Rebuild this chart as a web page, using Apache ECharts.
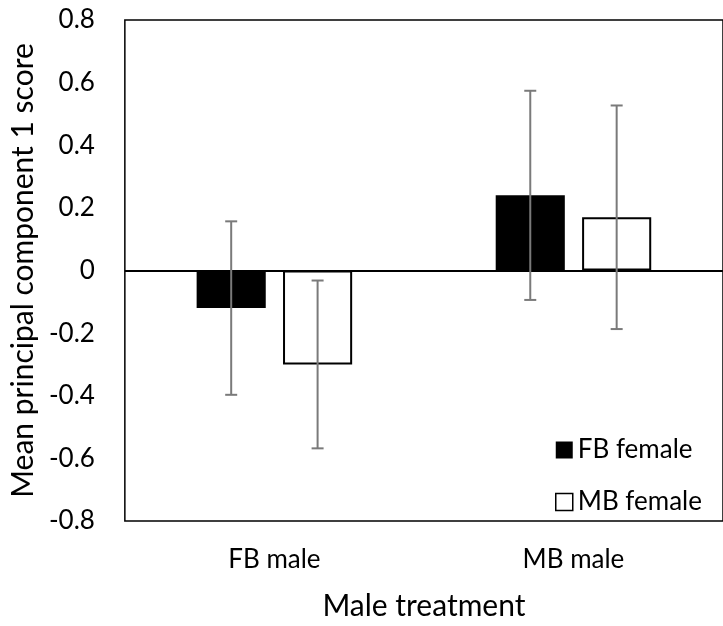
<!DOCTYPE html>
<html>
<head>
<meta charset="utf-8">
<script src="https://cdn.jsdelivr.net/npm/echarts@6/dist/echarts.min.js"></script>
<style>html,body{margin:0;padding:0;background:#fff}#c{width:723px;height:626px}</style>
</head>
<body>
<div id="c"></div>
<script>
var categories = ['FB male', 'MB male'];
var seriesNames = ['FB female', 'MB female'];
var fbFemale = [-0.12, 0.24];
var mbFemale = [-0.30, 0.17];
var fbFemaleErr = [0.277, 0.334];
var mbFemaleErr = [0.268, 0.357];
var yTicks = [-0.8, -0.6, -0.4, -0.2, 0, 0.2, 0.4, 0.6, 0.8];

var FONT = 'Lato';
var CAT_GAP = 0.48, BAR_GAP = 0.25;

function errSeries(values, errs, idx) {
  return {
    type: 'custom',
    z: 5,
    silent: true,
    data: values.map(function (v, i) { return [i, v, errs[i]]; }),
    renderItem: function (params, api) {
      var i = api.value(0), v = api.value(1), e = api.value(2);
      var catW = api.size([1, 0])[0];
      var band = catW * (1 - CAT_GAP);
      var barW = band / (2 + BAR_GAP);
      var off = -band / 2 + barW / 2 + idx * barW * (1 + BAR_GAP);
      var top = api.coord([i, v + e]);
      var bot = api.coord([i, v - e]);
      var x = top[0] + off;
      var cap = 6;
      var st = { stroke: '#7a7a7a', lineWidth: 2 };
      return {
        type: 'group',
        children: [
          { type: 'line', shape: { x1: x, y1: top[1], x2: x, y2: bot[1] }, style: st },
          { type: 'line', shape: { x1: x - cap, y1: top[1], x2: x + cap, y2: top[1] }, style: st },
          { type: 'line', shape: { x1: x - cap, y1: bot[1], x2: x + cap, y2: bot[1] }, style: st }
        ]
      };
    }
  };
}

var chart = echarts.init(document.getElementById('c'));
chart.setOption({
  animation: false,
  textStyle: { fontFamily: FONT, color: '#000' },
  grid: { left: 124, right: -2, top: 20, bottom: 105, show: true, borderColor: '#000', borderWidth: 1.5, backgroundColor: 'transparent' },
  legend: {
    orient: 'vertical',
    left: 555,
    top: 437,
    padding: 0,
    itemWidth: 17,
    itemHeight: 17,
    itemGap: 26,
    itemTextGap: 8,
    textStyle: { fontFamily: FONT, fontSize: 26, color: '#000' },
    data: [
      { name: seriesNames[0], icon: 'rect' },
      { name: seriesNames[1], icon: 'rect', itemStyle: { color: '#fff', borderColor: '#000', borderWidth: 1.5 } }
    ]
  },
  xAxis: {
    type: 'category',
    data: categories,
    axisLine: { show: false },
    axisTick: { show: false },
    axisLabel: { fontFamily: FONT, fontSize: 26, color: '#000', margin: 26 },
    name: 'Male treatment',
    nameLocation: 'middle',
    nameGap: 70,
    nameTextStyle: { fontFamily: FONT, fontSize: 30, color: '#000' }
  },
  yAxis: {
    type: 'value',
    min: -0.8,
    max: 0.8,
    interval: 0.2,
    axisLine: { show: false },
    axisTick: { show: false },
    splitLine: { show: false },
    axisLabel: {
      fontFamily: FONT, fontSize: 26, color: '#000', margin: 30,
      formatter: function (v) { var r = Math.round(v * 10) / 10; return r === 0 ? '0' : String(r); }
    },
    name: 'Mean principal component 1 score',
    nameLocation: 'middle',
    nameGap: 84,
    nameTextStyle: { fontFamily: FONT, fontSize: 30, color: '#000' }
  },
  series: [
    {
      name: seriesNames[0],
      type: 'bar',
      data: fbFemale,
      barGap: (BAR_GAP * 100) + '%',
      barCategoryGap: (CAT_GAP * 100) + '%',
      itemStyle: { color: '#000' },
      markLine: {
        silent: true,
        symbol: 'none',
        label: { show: false },
        lineStyle: { color: '#000', width: 2, type: 'solid' },
        data: [{ yAxis: 0 }]
      }
    },
    {
      name: seriesNames[1],
      type: 'bar',
      data: mbFemale,
      itemStyle: { color: '#fff', borderColor: '#000', borderWidth: 2 }
    },
    errSeries(fbFemale, fbFemaleErr, 0),
    errSeries(mbFemale, mbFemaleErr, 1)
  ]
});
</script>
</body>
</html>
